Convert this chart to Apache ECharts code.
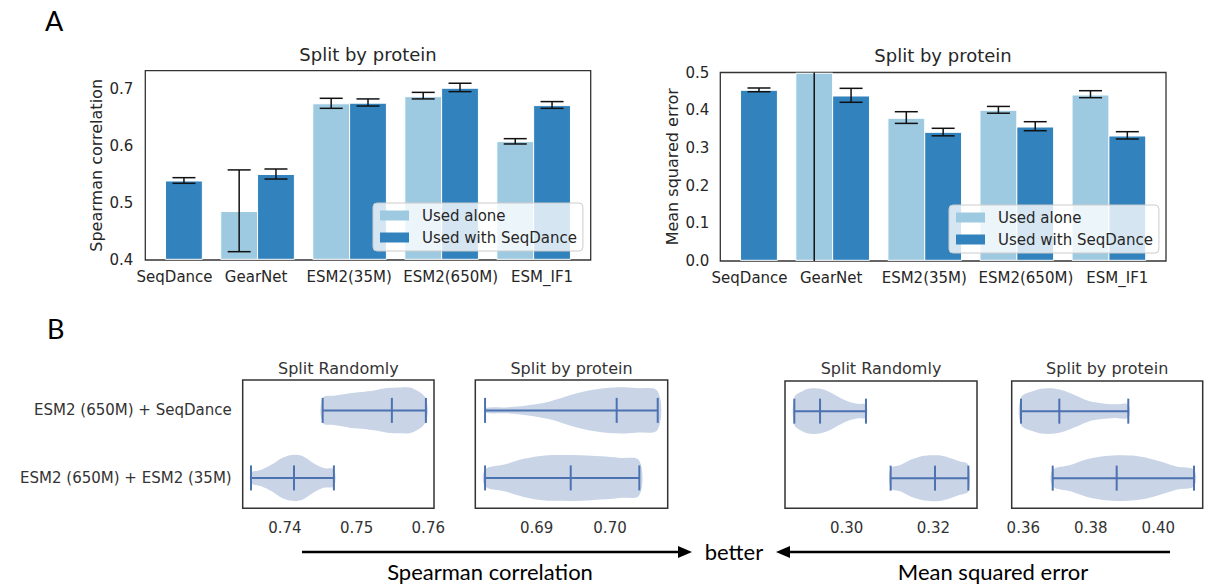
<!DOCTYPE html>
<html><head><meta charset="utf-8">
<script src="https://cdn.jsdelivr.net/npm/echarts@6/dist/echarts.min.js"></script>
<style>html,body{margin:0;padding:0;background:#fff}#c{width:1206px;height:586px}</style>
</head><body><div id="c"></div>
<script>
// ---------- Panel A data ----------
const barCategories = ['SeqDance', 'GearNet', 'ESM2(35M)', 'ESM2(650M)', 'ESM_IF1'];
const spearmanAlone     = [null, 0.485, 0.674, 0.6865, 0.6076];
const spearmanAloneLow  = [null, 0.4146, 0.666, 0.6825, 0.6035];
const spearmanAloneHigh = [null, 0.558, 0.6836, 0.694, 0.6128];
const spearmanWith      = [0.5386, 0.550, 0.675, 0.7012, 0.6708];
const spearmanWithLow   = [0.5345, 0.542, 0.670, 0.6953, 0.666];
const spearmanWithHigh  = [0.5444, 0.5596, 0.6825, 0.710, 0.6778];
const mseAlone     = [null, 0.60, 0.3785, 0.3997, 0.4403];
const mseAloneLow  = [null, -0.05, 0.365, 0.392, 0.4332];
const mseAloneHigh = [null, 1.25, 0.396, 0.410, 0.4517];
const mseWith      = [0.4528, 0.4377, 0.3413, 0.3554, 0.3316];
const mseWithLow   = [0.449, 0.421, 0.332, 0.3456, 0.3236];
const mseWithHigh  = [0.4589, 0.458, 0.352, 0.3695, 0.343];
const spearmanTicks = [0.4, 0.5, 0.6, 0.7];
const mseTicks = [0.0, 0.1, 0.2, 0.3, 0.4, 0.5];

// ---------- Panel B data ----------
const violinRows = ['ESM2 (650M) + SeqDance', 'ESM2 (650M) + ESM2 (35M)'];
const violinTitles = ['Split Randomly', 'Split by protein', 'Split Randomly', 'Split by protein'];
// [min, median, max] per row
const spearmanRandomStats  = [[0.74526, 0.75492, 0.75967], [0.73526, 0.74126, 0.74683]];
const spearmanProteinStats = [[0.68295, 0.70091, 0.70651], [0.68295, 0.69464, 0.7040]];
const mseRandomStats       = [[0.28791, 0.29385, 0.30445], [0.31015, 0.32038, 0.32808]];
const mseProteinStats      = [[0.35932, 0.37067, 0.39111], [0.36871, 0.38767, 0.41058]];
// relative violin half-widths sampled evenly from min to max
const spearmanRandomShape  = [[0.54, 0.65, 0.74, 0.80, 0.87, 0.97, 1.0, 0.95, 0.5], [0.22, 0.36, 0.58, 0.87, 1.0, 0.94, 0.65, 0.43, 0.36]];
const spearmanProteinShape = [[0.1, 0.13, 0.22, 0.39, 0.68, 0.9, 1.0, 0.97, 0.83], [0.36, 0.58, 0.83, 0.97, 1.0, 0.99, 0.94, 0.87, 0.75]];
const mseRandomShape       = [[0.6, 0.9, 1.0, 0.97, 0.83, 0.61, 0.42, 0.32, 0.28], [0.43, 0.58, 0.8, 0.94, 1.0, 1.0, 0.9, 0.75, 0.58]];
const mseProteinShape      = [[0.6, 0.9, 1.0, 0.93, 0.71, 0.46, 0.35, 0.3, 0.29], [0.36, 0.58, 0.84, 0.97, 1.0, 0.94, 0.75, 0.51, 0.36]];
const violinTicks = [[0.74, 0.75, 0.76], [0.69, 0.70], [0.30, 0.32], [0.36, 0.38, 0.40]];

// ---------- layout (label anchor positions along the bar x-axis) ----------
const barLabelPos = [0.098, 0.984, 1.995, 3.098, 4.092];

// ---------- rendering ----------
const FONT = 'DejaVu Sans';
const TXT = '#262626';
const LIGHT = '#9ecae1', DARK = '#3182bd';
const VCOL = '#4c72b0', VFILL = 'rgba(76,114,176,0.3)';
const chart = echarts.init(document.getElementById('c'), null, {renderer: 'svg'});

function barData(vals, lo, hi) {
  const out = [];
  vals.forEach((v, i) => { if (v != null) out.push([i, v, lo[i], hi[i]]); });
  return out;
}
function makeBarRender(offset) {
  return function (params, api) {
    const x = api.value(0) + offset, v = api.value(1), lo = api.value(2), hi = api.value(3);
    const cs = params.coordSys;
    const pL = api.coord([x - 0.2, v]), pR = api.coord([x + 0.2, v]), p0 = api.coord([x, 0]);
    const rect = echarts.graphic.clipRectByRect(
      {x: pL[0], y: pL[1], width: pR[0] - pL[0], height: p0[1] - pL[1]},
      {x: cs.x, y: cs.y + 0.7, width: cs.width, height: cs.height - 1.4});
    const children = [];
    if (rect) children.push({type: 'rect', shape: rect, style: {fill: api.visual('color'), stroke: '#fff', lineWidth: 1}});
    const top = cs.y, bot = cs.y + cs.height;
    const pHi = api.coord([x, hi]), pLo = api.coord([x, lo]);
    const cx = pHi[0];
    const yHi = Math.max(top, Math.min(bot, pHi[1])), yLo = Math.max(top, Math.min(bot, pLo[1]));
    const es = {stroke: '#111', lineWidth: 1.5};
    children.push({type: 'line', shape: {x1: cx, y1: yHi, x2: cx, y2: yLo}, style: es});
    if (pHi[1] > top && pHi[1] < bot) children.push({type: 'line', shape: {x1: cx - 11.5, y1: pHi[1], x2: cx + 11.5, y2: pHi[1]}, style: es});
    if (pLo[1] > top && pLo[1] < bot) children.push({type: 'line', shape: {x1: cx - 11.5, y1: pLo[1], x2: cx + 11.5, y2: pLo[1]}, style: es});
    return {type: 'group', children};
  };
}
const VH = 0.34;
function violinRender(params, api) {
  const mn = api.value(0), md = api.value(1), mx = api.value(2), row = api.value(3);
  const shape = [];
  for (let k = 4; k < 13; k++) shape.push(api.value(k));
  const n = shape.length, topPts = [], botPts = [];
  for (let k = 0; k < n; k++) {
    const xv = mn + (mx - mn) * k / (n - 1);
    topPts.push(api.coord([xv, row - shape[k] * VH]));
    botPts.push(api.coord([xv, row + shape[k] * VH]));
  }
  const pts = topPts.concat(botPts.reverse());
  const c = api.coord([mn, row]), cMd = api.coord([md, row]), cMx = api.coord([mx, row]);
  const ls = {stroke: VCOL, lineWidth: 2};
  const h = 12.5;
  return {type: 'group', children: [
    {type: 'polygon', shape: {points: pts, smooth: 0.35}, style: {fill: VFILL}},
    {type: 'line', shape: {x1: c[0], y1: c[1], x2: cMx[0], y2: c[1]}, style: ls},
    {type: 'line', shape: {x1: c[0], y1: c[1] - h, x2: c[0], y2: c[1] + h}, style: ls},
    {type: 'line', shape: {x1: cMd[0], y1: c[1] - h, x2: cMd[0], y2: c[1] + h}, style: ls},
    {type: 'line', shape: {x1: cMx[0], y1: c[1] - h, x2: cMx[0], y2: c[1] + h}, style: ls}
  ]};
}
function violinData(stats, shapes) {
  return stats.map((s, r) => [s[0], s[1], s[2], r + 1].concat(shapes[r]));
}

const barGrids = [
  {left: 145.3, top: 70.7, width: 445.4, height: 189.3},
  {left: 720.3, top: 72.5, width: 445.7, height: 188.5}
];
const violinGrids = [
  {left: 242.7, top: 380, width: 191.3, height: 128.3},
  {left: 475.3, top: 380, width: 192.4, height: 128.3},
  {left: 785, top: 381, width: 192, height: 127.3},
  {left: 1011.7, top: 381, width: 191, height: 127.3}
];
const violinRanges = [[0.7341, 0.7608], [0.68162, 0.70787], [0.28576, 0.33008], [0.35656, 0.41316]];

const grids = barGrids.map(g => Object.assign({show: true, borderColor: '#333', borderWidth: 1.3, containLabel: false}, g))
  .concat(violinGrids.map(g => Object.assign({show: true, borderColor: '#333', borderWidth: 1.5, containLabel: false}, g)));

const hidden = {axisLine: {show: false}, axisTick: {show: false}, splitLine: {show: false}};
const lbl = (extra) => Object.assign({fontFamily: FONT, color: TXT, fontSize: 15}, extra);
const catAt = v => {
  let best = 0;
  barLabelPos.forEach((p, i) => { if (Math.abs(p - v) < Math.abs(barLabelPos[best] - v)) best = i; });
  return barCategories[best];
};

const xAxes = [0, 1].map(gi => Object.assign({
  gridIndex: gi, type: 'value', min: -0.22, max: 4.62,
  axisLabel: lbl({customValues: barLabelPos, formatter: catAt, margin: 9.5})
}, hidden)).concat(violinRanges.map((r, i) => Object.assign({
  gridIndex: 2 + i, type: 'value', min: r[0], max: r[1],
  axisLabel: lbl({customValues: violinTicks[i], formatter: v => v.toFixed(2), margin: 12, color: '#333'})
}, hidden)));

const yAxes = [
  Object.assign({gridIndex: 0, type: 'value', min: 0.4, max: 0.732,
    name: 'Spearman correlation', nameLocation: 'middle', nameGap: 41,
    nameTextStyle: {fontFamily: FONT, fontSize: 16, color: TXT},
    axisLabel: lbl({customValues: spearmanTicks, formatter: v => v.toFixed(1), margin: 12})}, hidden),
  Object.assign({gridIndex: 1, type: 'value', min: 0, max: 0.5,
    name: 'Mean squared error', nameLocation: 'middle', nameGap: 40,
    nameTextStyle: {fontFamily: FONT, fontSize: 16, color: TXT},
    axisLabel: lbl({customValues: mseTicks, formatter: v => v.toFixed(1), margin: 11})}, hidden)
].concat([0, 1, 2, 3].map(i => Object.assign({
  gridIndex: 2 + i, type: 'value', min: 0.55, max: 2.45, inverse: true,
  axisLabel: i === 0 ? lbl({customValues: [1, 2], formatter: v => violinRows[Math.round(v) - 1], margin: 11, color: '#333'}) : {show: false}
}, hidden)));

const titleStyle = (size, fam, col) => ({fontFamily: fam || FONT, fontSize: size, color: col || TXT, fontWeight: 'normal'});
const titles = [
  {text: 'A', left: 45, top: 7, padding: 0, textStyle: titleStyle(27, 'Lato', '#000')},
  {text: 'B', left: 47, top: 315, padding: 0, textStyle: titleStyle(27, 'Lato', '#000')},
  {text: 'Split by protein', left: 368, top: 45, padding: 0, textAlign: 'center', textStyle: titleStyle(18)},
  {text: 'Split by protein', left: 943, top: 46, padding: 0, textAlign: 'center', textStyle: titleStyle(18)}
].concat(violinGrids.map((g, i) => ({text: violinTitles[i], left: g.left + g.width / 2, top: 360, padding: 0, textAlign: 'center', textStyle: titleStyle(16, FONT, '#333')})));

const legendBase = {
  orient: 'vertical', selectedMode: false, icon: 'rect', itemWidth: 29, itemHeight: 10, itemGap: 7,
  backgroundColor: 'rgba(255,255,255,0.8)', borderColor: '#cccccc', borderWidth: 1, borderRadius: 4,
  padding: [5, 6, 6, 7],
  textStyle: {fontFamily: FONT, fontSize: 15, color: TXT, lineHeight: 15, padding: [0, 0, 0, 8]},
  data: ['Used alone', 'Used with SeqDance']
};

const series = [
  {type: 'custom', name: 'Used alone', xAxisIndex: 0, yAxisIndex: 0, itemStyle: {color: LIGHT}, renderItem: makeBarRender(-0.2), data: barData(spearmanAlone, spearmanAloneLow, spearmanAloneHigh), silent: true},
  {type: 'custom', name: 'Used with SeqDance', xAxisIndex: 0, yAxisIndex: 0, itemStyle: {color: DARK}, renderItem: makeBarRender(0.2), data: barData(spearmanWith, spearmanWithLow, spearmanWithHigh), silent: true},
  {type: 'custom', name: 'Used alone', xAxisIndex: 1, yAxisIndex: 1, itemStyle: {color: LIGHT}, renderItem: makeBarRender(-0.2), data: barData(mseAlone, mseAloneLow, mseAloneHigh), silent: true},
  {type: 'custom', name: 'Used with SeqDance', xAxisIndex: 1, yAxisIndex: 1, itemStyle: {color: DARK}, renderItem: makeBarRender(0.2), data: barData(mseWith, mseWithLow, mseWithHigh), silent: true}
];
[[spearmanRandomStats, spearmanRandomShape], [spearmanProteinStats, spearmanProteinShape],
 [mseRandomStats, mseRandomShape], [mseProteinStats, mseProteinShape]].forEach((p, i) => {
  series.push({type: 'custom', name: 'violin' + i, xAxisIndex: 2 + i, yAxisIndex: 2 + i, renderItem: violinRender,
    data: violinData(p[0], p[1]), silent: true, encode: {x: [0, 2], y: 3}});
});

const annoFont = 'Lato';
const graphic = [
  {type: 'line', shape: {x1: 302, y1: 552, x2: 682, y2: 552}, style: {stroke: '#000', lineWidth: 2.5}},
  {type: 'polygon', shape: {points: [[678, 546], [692, 552], [678, 558]]}, style: {fill: '#000'}},
  {type: 'line', shape: {x1: 786, y1: 552, x2: 1170, y2: 552}, style: {stroke: '#000', lineWidth: 2.5}},
  {type: 'polygon', shape: {points: [[790, 546], [776, 552], [790, 558]]}, style: {fill: '#000'}},
  {type: 'text', x: 734, y: 551, style: {text: 'better', fontFamily: annoFont, fontSize: 22, fill: '#000', align: 'center', verticalAlign: 'middle'}},
  {type: 'text', x: 490, y: 571, style: {text: 'Spearman correlation', fontFamily: annoFont, fontSize: 22, fill: '#000', align: 'center', verticalAlign: 'middle'}},
  {type: 'text', x: 993, y: 571, style: {text: 'Mean squared error', fontFamily: annoFont, fontSize: 22, fill: '#000', align: 'center', verticalAlign: 'middle'}}
];

chart.setOption({
  animation: false,
  title: titles,
  grid: grids,
  xAxis: xAxes,
  yAxis: yAxes,
  legend: [
    Object.assign({}, legendBase, {left: 373, top: 203}),
    Object.assign({}, legendBase, {left: 949, top: 205})
  ],
  series: series,
  graphic: graphic
});
</script></body></html>
